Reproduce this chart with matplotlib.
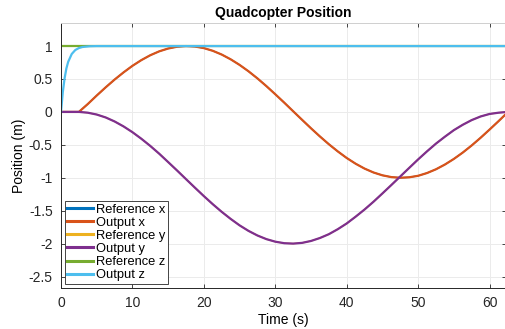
import matplotlib.pyplot as plt

# time samples (s)
t = [0, 1.25, 2.5, 3.75, 5, 6.25, 7.5, 8.75, 10, 11.25, 12.5, 13.75, 15,
     16.25, 17.5, 18.75, 20, 21.25, 22.5, 23.75, 25, 26.25, 27.5, 28.75, 30,
     31.25, 32.5, 33.75, 35, 36.25, 37.5, 38.75, 40, 41.25, 42.5, 43.75, 45,
     46.25, 47.5, 48.75, 50, 51.25, 52.5, 53.75, 55, 56.25, 57.5, 58.75, 60,
     61.25, 62.5]

x_out = [0, 0, 0, 0.120, 0.249, 0.373, 0.491, 0.600, 0.700, 0.787, 0.861,
         0.920, 0.963, 0.990, 1.000, 0.993, 0.969, 0.928, 0.871, 0.799, 0.714,
         0.617, 0.509, 0.392, 0.268, 0.141, 0.010, -0.120, -0.249, -0.373,
         -0.491, -0.600, -0.700, -0.787, -0.861, -0.920, -0.963, -0.990,
         -1.000, -0.993, -0.970, -0.928, -0.871, -0.799, -0.714, -0.617,
         -0.509, -0.392, -0.268, -0.141, -0.010]
x_ref = x_out

y_out = [0, 0, 0, -0.012, -0.040, -0.084, -0.145, -0.220, -0.308, -0.408,
         -0.517, -0.635, -0.762, -0.890, -1.021, -1.151, -1.279, -1.402,
         -1.518, -1.625, -1.723, -1.807, -1.877, -1.932, -1.971, -1.994,
         -2.000, -1.989, -1.960, -1.915, -1.857, -1.781, -1.694, -1.591,
         -1.482, -1.364, -1.238, -1.110, -0.980, -0.850, -0.721, -0.598,
         -0.481, -0.376, -0.277, -0.195, -0.124, -0.069, -0.031, -0.012, 0.000]
y_ref = y_out

tz = [0, 0.25, 0.5, 0.75, 1, 1.5, 2, 2.5, 3, 4, 5, 62.5]
z_out = [0, 0.30, 0.51, 0.66, 0.76, 0.88, 0.94, 0.97, 0.986, 0.997, 1.0, 1.0]
z_ref = [1, 1]
tz_ref = [0, 62.5]

plt.rcParams['font.family'] = ['Liberation Sans', 'DejaVu Sans']

fig = plt.figure(figsize=(5.06, 3.29), dpi=100)
ax = fig.add_axes([0.1206, 0.1255, 0.8794, 0.8045])

lw = 1.6
ax.plot(t, x_ref, color='#0072BD', lw=1.0, label='Reference x')
ax.plot(t, x_out, color='#D95319', lw=lw, label='Output x')
ax.plot(t, y_ref, color='#EDB120', lw=1.0, label='Reference y')
ax.plot(t, y_out, color='#7E2F8E', lw=lw, label='Output y')
ax.plot(tz_ref, z_ref, color='#77AC30', lw=lw, label='Reference z')
ax.plot(tz, z_out, color='#4DBEEE', lw=lw, label='Output z')

ax.set_xlim(0, 62.3)
ax.set_ylim(-2.67, 1.35)
ax.set_xticks([0, 10, 20, 30, 40, 50, 60])
ax.set_yticks([-2.5, -2, -1.5, -1, -0.5, 0, 0.5, 1])
ax.set_yticklabels(['-2.5', '-2', '-1.5', '-1', '-0.5', '0', '0.5', '1'])
ax.grid(True, color='#ebebeb', lw=0.7)
ax.set_axisbelow(True)
ax.tick_params(direction='in', top=True, right=True, labelsize=10,
               length=3, width=0.6, colors='#262626', pad=6)
for s in ['left', 'bottom']:
    ax.spines[s].set_color('#262626')
    ax.spines[s].set_linewidth(0.7)
for s in ['top', 'right']:
    ax.spines[s].set_color('#cfcfcf')
    ax.spines[s].set_linewidth(0.7)

ax.set_title('Quadcopter Position', fontsize=10, fontweight='bold', pad=4)
ax.set_xlabel('Time (s)', fontsize=10, labelpad=2)
ax.set_ylabel('Position (m)', fontsize=10, labelpad=2)

leg = ax.legend(loc='lower left', bbox_to_anchor=(0.008, 0.015), fontsize=9.3,
                handlelength=2.0, handletextpad=0.2, borderpad=0.2,
                labelspacing=0.08, borderaxespad=0, fancybox=False,
                framealpha=1)
leg.get_frame().set_edgecolor('#262626')
leg.get_frame().set_linewidth(0.6)
for line in leg.get_lines():
    line.set_linewidth(2.2)

fig.savefig('out.png', dpi=100)
